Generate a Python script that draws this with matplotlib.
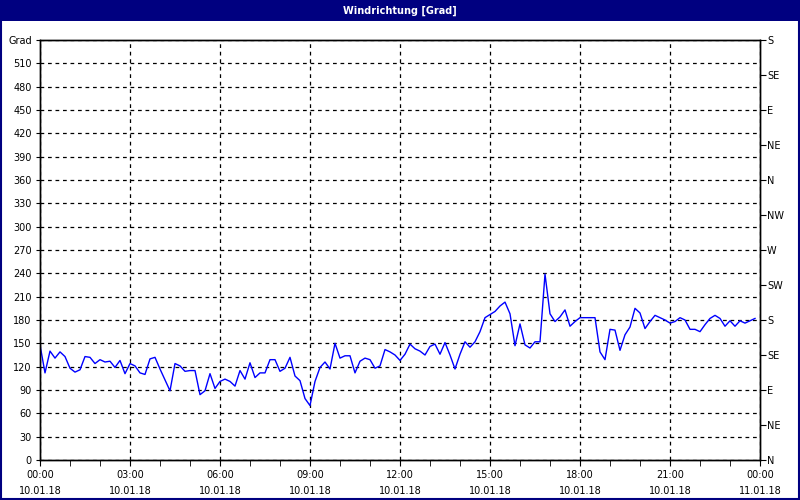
import matplotlib
matplotlib.use("Agg")
import matplotlib.pyplot as plt
from matplotlib.patches import Rectangle

# Windrichtung in Grad, alle 10 Minuten (10.01.18 00:00 - 23:50)
windrichtung = [
    148, 112, 140, 131, 139, 133, 118, 113, 116, 133, 132, 124,
    129, 126, 127, 119, 128, 111, 124, 121, 112, 110, 130, 132,
    117, 103, 89, 124, 121, 114, 115, 115, 84, 89, 111, 92,
    101, 104, 101, 95, 115, 104, 125, 106, 112, 112, 129, 129,
    114, 118, 132, 108, 102, 79, 70, 101, 119, 126, 117, 150,
    131, 134, 134, 112, 127, 131, 129, 118, 121, 142, 139, 135,
    128, 136, 149, 143, 140, 135, 146, 149, 136, 151, 135, 117,
    136, 152, 145, 152, 165, 183, 187, 191, 198, 203, 188, 147,
    175, 148, 144, 152, 152, 239, 188, 178, 184, 193, 172, 178,
    183, 183, 183, 183, 139, 129, 168, 167, 141, 161, 171, 195,
    189, 169, 178, 186, 183, 180, 176, 178, 183, 180, 168, 168,
    165, 174, 182, 186, 182, 172, 179, 172, 179, 176, 179, 182,
]
stunden = [i / 6 for i in range(len(windrichtung))]

x_ticks = [0, 3, 6, 9, 12, 15, 18, 21, 24]
x_labels = ["00:00\n10.01.18", "03:00\n10.01.18", "06:00\n10.01.18",
            "09:00\n10.01.18", "12:00\n10.01.18", "15:00\n10.01.18",
            "18:00\n10.01.18", "21:00\n10.01.18", "00:00\n11.01.18"]
y_ticks = list(range(0, 541, 30))
y_labels = [str(v) for v in y_ticks[:-1]] + ["Grad"]
richtung_ticks = list(range(0, 541, 45))
richtung_labels = ["N", "NE", "E", "SE", "S", "SW", "W", "NW",
                   "N", "NE", "E", "SE", "S"]

navy = "#000080"
fs = 7

fig = plt.figure(figsize=(8, 5), dpi=100)
fig.patch.set_facecolor("white")
ax = fig.add_axes([0.05, 0.08, 0.90, 0.84])

ax.plot(stunden, windrichtung, color="#0000ff", lw=1)

ax.set_xlim(0, 24)
ax.set_ylim(0, 540)
ax.set_xticks(x_ticks)
ax.set_xticklabels(x_labels, fontsize=fs, linespacing=1.8)
ax.set_xticks(range(0, 25), minor=True)
ax.set_yticks(y_ticks)
ax.set_yticklabels(y_labels, fontsize=fs)
ax.xaxis.set_ticks_position("bottom")
ax.tick_params(axis="x", which="both", direction="out", length=4, pad=3)
ax.tick_params(axis="y", direction="out", length=3, pad=3)
ax.grid(True, which="major", color="black", linestyle=(0, (3, 3)), lw=0.9)

ax2 = ax.twinx()
ax2.set_ylim(0, 540)
ax2.set_yticks(richtung_ticks)
ax2.set_yticklabels(richtung_labels, fontsize=fs)
ax2.tick_params(axis="y", direction="out", length=4, pad=1)

for a in (ax, ax2):
    for s in a.spines.values():
        s.set_color("black")
        s.set_linewidth(1)

# Titelleiste und Rahmen
fig.patches.append(Rectangle((0, 0.958), 1, 0.042, transform=fig.transFigure,
                             facecolor=navy, edgecolor="none", zorder=0))
fig.patches.append(Rectangle((0.001, 0.002), 0.998, 0.996, transform=fig.transFigure,
                             facecolor="none", edgecolor=navy, lw=1.5, zorder=5))
fig.text(0.5, 0.979, "Windrichtung [Grad]", color="white", fontsize=7,
         fontweight="bold", ha="center", va="center")

fig.savefig("out.png", dpi=100)
